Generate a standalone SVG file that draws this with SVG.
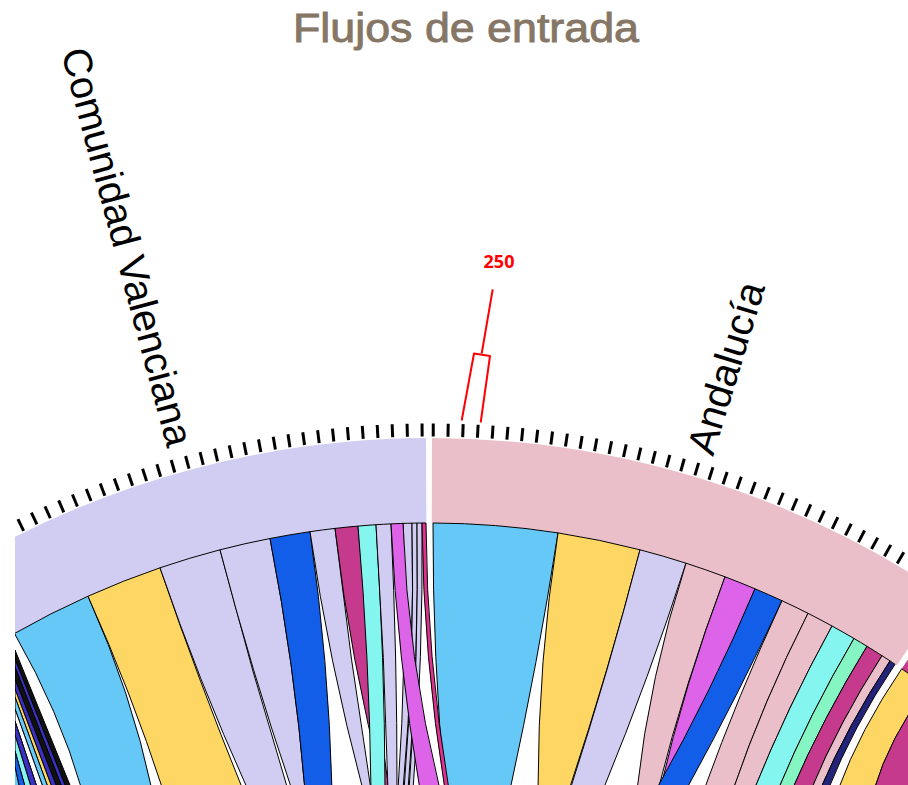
<svg xmlns="http://www.w3.org/2000/svg" width="908" height="785" viewBox="0 0 908 785">
<defs>
<clipPath id="clip"><rect x="15" y="0" width="893" height="785"/></clipPath>
<style>
.title{font-family:"Liberation Sans",Arial,sans-serif;font-size:40px;fill:#857665;stroke:#857665;stroke-width:0.9}
.label{font-family:"Liberation Sans",Arial,sans-serif;font-size:40px;fill:#000}
.ann{font-family:"Open Sans","Liberation Sans",sans-serif;font-size:18px;font-weight:bold;fill:#ff0000}
.annl{fill:none;stroke:#ff0000;stroke-width:2;stroke-linejoin:round}
.tick{stroke:#000;stroke-width:3}
.rib{stroke:#000;stroke-width:1;stroke-linejoin:round}
.lb{fill:#66c8f7}.yl{fill:#fdd663}.lv{fill:#d1cdf2}.bl{fill:#135ee9}.mg{fill:#c53a8c}
.cy{fill:#84f5ef}.vi{fill:#dd63e8}.mi{fill:#84f5c3}.pk{fill:#ebbfc9}.dp{fill:#e0318f}
.nv{fill:#23237a}.ig{fill:#3a30c4}.bk{fill:#111}.wh{fill:#fff}
</style>
</defs>
<rect width="908" height="785" fill="#fff"/>
<g id="title"><text class="title" x="466" y="42" text-anchor="middle" textLength="346" lengthAdjust="spacingAndGlyphs">Flujos de entrada</text></g>
<g clip-path="url(#clip)">
<g id="node-comunidad-valenciana">
<path class="lv" d="M -27.7 559.8 A 921 921 0 0 1 426 438 L 426.35 523 A 836 836 0 0 0 14.5 633.5 Z"/>
<g class="tick">
<line x1="430" y1="436.5" x2="430" y2="423.5" transform="rotate(-29.8 430 1359)"/>
<line x1="430" y1="436.5" x2="430" y2="423.5" transform="rotate(-28.884 430 1359)"/>
<line x1="430" y1="436.5" x2="430" y2="423.5" transform="rotate(-27.968 430 1359)"/>
<line x1="430" y1="436.5" x2="430" y2="423.5" transform="rotate(-27.052 430 1359)"/>
<line x1="430" y1="436.5" x2="430" y2="423.5" transform="rotate(-26.136 430 1359)"/>
<line x1="430" y1="436.5" x2="430" y2="423.5" transform="rotate(-25.22 430 1359)"/>
<line x1="430" y1="436.5" x2="430" y2="423.5" transform="rotate(-24.304 430 1359)"/>
<line x1="430" y1="436.5" x2="430" y2="423.5" transform="rotate(-23.388 430 1359)"/>
<line x1="430" y1="436.5" x2="430" y2="423.5" transform="rotate(-22.472 430 1359)"/>
<line x1="430" y1="436.5" x2="430" y2="423.5" transform="rotate(-21.556 430 1359)"/>
<line x1="430" y1="436.5" x2="430" y2="423.5" transform="rotate(-20.64 430 1359)"/>
<line x1="430" y1="436.5" x2="430" y2="423.5" transform="rotate(-19.724 430 1359)"/>
<line x1="430" y1="436.5" x2="430" y2="423.5" transform="rotate(-18.808 430 1359)"/>
<line x1="430" y1="436.5" x2="430" y2="423.5" transform="rotate(-17.892 430 1359)"/>
<line x1="430" y1="436.5" x2="430" y2="423.5" transform="rotate(-16.976 430 1359)"/>
<line x1="430" y1="436.5" x2="430" y2="423.5" transform="rotate(-16.06 430 1359)"/>
<line x1="430" y1="436.5" x2="430" y2="423.5" transform="rotate(-15.144 430 1359)"/>
<line x1="430" y1="436.5" x2="430" y2="423.5" transform="rotate(-14.228 430 1359)"/>
<line x1="430" y1="436.5" x2="430" y2="423.5" transform="rotate(-13.312 430 1359)"/>
<line x1="430" y1="436.5" x2="430" y2="423.5" transform="rotate(-12.396 430 1359)"/>
<line x1="430" y1="436.5" x2="430" y2="423.5" transform="rotate(-11.48 430 1359)"/>
<line x1="430" y1="436.5" x2="430" y2="423.5" transform="rotate(-10.564 430 1359)"/>
<line x1="430" y1="436.5" x2="430" y2="423.5" transform="rotate(-9.648 430 1359)"/>
<line x1="430" y1="436.5" x2="430" y2="423.5" transform="rotate(-8.732 430 1359)"/>
<line x1="430" y1="436.5" x2="430" y2="423.5" transform="rotate(-7.816 430 1359)"/>
<line x1="430" y1="436.5" x2="430" y2="423.5" transform="rotate(-6.9 430 1359)"/>
<line x1="430" y1="436.5" x2="430" y2="423.5" transform="rotate(-5.984 430 1359)"/>
<line x1="430" y1="436.5" x2="430" y2="423.5" transform="rotate(-5.068 430 1359)"/>
<line x1="430" y1="436.5" x2="430" y2="423.5" transform="rotate(-4.152 430 1359)"/>
<line x1="430" y1="436.5" x2="430" y2="423.5" transform="rotate(-3.236 430 1359)"/>
<line x1="430" y1="436.5" x2="430" y2="423.5" transform="rotate(-2.32 430 1359)"/>
<line x1="430" y1="436.5" x2="430" y2="423.5" transform="rotate(-1.404 430 1359)"/>
<line x1="430" y1="436.5" x2="430" y2="423.5" transform="rotate(-0.488 430 1359)"/>
</g>
</g>
<g id="node-andalucia">
<path class="pk" d="M 431.9 438 A 921 921 0 0 1 944.3 594.9 L 896.8 665.5 A 836 836 0 0 0 431.75 523 Z"/>
<g class="tick">
<line x1="430" y1="436.5" x2="430" y2="423.5" transform="rotate(0.2 430 1359)"/>
<line x1="430" y1="436.5" x2="430" y2="423.5" transform="rotate(1.116 430 1359)"/>
<line x1="430" y1="436.5" x2="430" y2="423.5" transform="rotate(2.032 430 1359)"/>
<line x1="430" y1="436.5" x2="430" y2="423.5" transform="rotate(2.948 430 1359)"/>
<line x1="430" y1="436.5" x2="430" y2="423.5" transform="rotate(3.864 430 1359)"/>
<line x1="430" y1="436.5" x2="430" y2="423.5" transform="rotate(4.78 430 1359)"/>
<line x1="430" y1="436.5" x2="430" y2="423.5" transform="rotate(5.696 430 1359)"/>
<line x1="430" y1="436.5" x2="430" y2="423.5" transform="rotate(6.612 430 1359)"/>
<line x1="430" y1="436.5" x2="430" y2="423.5" transform="rotate(7.528 430 1359)"/>
<line x1="430" y1="436.5" x2="430" y2="423.5" transform="rotate(8.444 430 1359)"/>
<line x1="430" y1="436.5" x2="430" y2="423.5" transform="rotate(9.36 430 1359)"/>
<line x1="430" y1="436.5" x2="430" y2="423.5" transform="rotate(10.276 430 1359)"/>
<line x1="430" y1="436.5" x2="430" y2="423.5" transform="rotate(11.192 430 1359)"/>
<line x1="430" y1="436.5" x2="430" y2="423.5" transform="rotate(12.108 430 1359)"/>
<line x1="430" y1="436.5" x2="430" y2="423.5" transform="rotate(13.024 430 1359)"/>
<line x1="430" y1="436.5" x2="430" y2="423.5" transform="rotate(13.94 430 1359)"/>
<line x1="430" y1="436.5" x2="430" y2="423.5" transform="rotate(14.856 430 1359)"/>
<line x1="430" y1="436.5" x2="430" y2="423.5" transform="rotate(15.772 430 1359)"/>
<line x1="430" y1="436.5" x2="430" y2="423.5" transform="rotate(16.688 430 1359)"/>
<line x1="430" y1="436.5" x2="430" y2="423.5" transform="rotate(17.604 430 1359)"/>
<line x1="430" y1="436.5" x2="430" y2="423.5" transform="rotate(18.52 430 1359)"/>
<line x1="430" y1="436.5" x2="430" y2="423.5" transform="rotate(19.436 430 1359)"/>
<line x1="430" y1="436.5" x2="430" y2="423.5" transform="rotate(20.352 430 1359)"/>
<line x1="430" y1="436.5" x2="430" y2="423.5" transform="rotate(21.268 430 1359)"/>
<line x1="430" y1="436.5" x2="430" y2="423.5" transform="rotate(22.184 430 1359)"/>
<line x1="430" y1="436.5" x2="430" y2="423.5" transform="rotate(23.1 430 1359)"/>
<line x1="430" y1="436.5" x2="430" y2="423.5" transform="rotate(24.016 430 1359)"/>
<line x1="430" y1="436.5" x2="430" y2="423.5" transform="rotate(24.932 430 1359)"/>
<line x1="430" y1="436.5" x2="430" y2="423.5" transform="rotate(25.848 430 1359)"/>
<line x1="430" y1="436.5" x2="430" y2="423.5" transform="rotate(26.764 430 1359)"/>
<line x1="430" y1="436.5" x2="430" y2="423.5" transform="rotate(27.68 430 1359)"/>
<line x1="430" y1="436.5" x2="430" y2="423.5" transform="rotate(28.596 430 1359)"/>
<line x1="430" y1="436.5" x2="430" y2="423.5" transform="rotate(29.512 430 1359)"/>
<line x1="430" y1="436.5" x2="430" y2="423.5" transform="rotate(30.428 430 1359)"/>
<line x1="430" y1="436.5" x2="430" y2="423.5" transform="rotate(31.344 430 1359)"/>
<line x1="430" y1="436.5" x2="430" y2="423.5" transform="rotate(32.26 430 1359)"/>
<line x1="430" y1="436.5" x2="430" y2="423.5" transform="rotate(33.176 430 1359)"/>
</g>
</g>
<g id="node-next">
<path class="mg" d="M 949.7 598.6 A 921 921 0 0 1 1227.6 898.5 L 1154 941 A 836 836 0 0 0 901.7 668.8 Z"/>
</g>
<g id="connectors" class="rib">
<path class="bk" d="M 15 650 L 72 790 L 67 790 L 15 659 Z"/>
<path class="ig" d="M 15 659 L 67 790 L 63 790 L 15 667 Z"/>
<path class="bk" d="M 15 667 L 63 790 L 58 790 L 15 679 Z"/>
<path class="ig" d="M 15 679 L 58 790 L 53 790 L 15 689 Z"/>
<path class="yl" d="M 15 689 L 53 790 L 49 790 L 15 697 Z"/>
<path class="lb" d="M 15 697 L 49 790 L 44 790 L 15 709 Z"/>
<path class="wh" d="M 15 709 L 44 790 L 38 790 L 15 721 Z"/>
<path class="ig" d="M 15 721 L 38 790 L 32 790 L 15 735 Z"/>
<path class="cy" d="M 15 735 L 32 790 L 26 790 L 15 751 Z"/>
<path class="bl" d="M 15 751 L 26 790 L 20 790 L 15 767 Z"/>
<path class="lb" d="M 15 767 L 20 790 L 10 790 Z"/>
<path class="lb" d="M 14.5 633.5 A 836 836 0 0 1 88 596.2 Q 131.4 693.1 152 790 L 82 790 Q 59.3 711.8 14.5 633.5 Z"/>
<path class="yl" d="M 88 596.2 A 836 836 0 0 1 160 567.8 Q 197.9 678.9 243 790 L 163 790 Q 131.4 693.1 88 596.2 Z"/>
<path class="lv" d="M 160 567.8 A 836 836 0 0 1 220 549.8 Q 251.2 669.9 288 790 L 248 790 Q 197.9 678.9 160 567.8 Z"/>
<path class="lv" d="M 220 549.8 A 836 836 0 0 1 270 538.5 Q 294.5 664.3 305 790 L 292 790 Q 251.2 669.9 220 549.8 Z"/>
<path class="bl" d="M 270 538.5 A 836 836 0 0 1 310 531.7 Q 328.7 660.9 332 790 L 305 790 Q 294.5 664.3 270 538.5 Z"/>
<path class="lv" d="M 310 531.7 A 836 836 0 0 1 335 528.4 Q 350 659.2 371 790 L 363 790 Q 328.7 660.9 310 531.7 Z"/>
<path class="mg" d="M 335 528.4 A 836 836 0 0 1 358 526.1 Q 369.4 658.1 389 790 L 384 790 Q 350 659.2 335 528.4 Z"/>
<path class="cy" d="M 358 526.1 A 836 836 0 0 1 376 524.7 Q 384.6 657.4 385 790 L 371 790 Q 369.4 658.1 358 526.1 Z"/>
<path class="lv" d="M 376 524.7 A 836 836 0 0 1 391 523.9 Q 397.2 657 397 790 L 388 790 Q 384.6 657.4 376 524.7 Z"/>
<path class="lv" d="M 403 523.4 A 836 836 0 0 1 412 523.2 Q 414.9 656.6 403 790 L 398 790 Q 407.3 656.7 403 523.4 Z"/>
<path class="lv" d="M 412 523.2 A 836 836 0 0 1 417 523.1 Q 419.1 656.6 408 790 L 404 790 Q 414.9 656.6 412 523.2 Z"/>
<path class="lv" d="M 417 523.1 A 836 836 0 0 1 422 523 Q 423.3 656.5 413 790 L 409 790 Q 419.1 656.6 417 523.1 Z"/>
<path class="vi" d="M 391 523.9 A 836 836 0 0 1 403 523.4 Q 407.3 656.7 440 790 L 420 790 Q 397.2 657 391 523.9 Z"/>
<path class="lb" d="M 433 523 A 836 836 0 0 1 558 532.9 Q 538.1 661.5 510 790 L 445 790 Q 432.5 656.5 433 523 Z"/>
<path class="dp" d="M 422 523 A 836 836 0 0 1 426 523 Q 426.6 656.5 449 790 L 445 790 Q 423.3 656.5 422 523 Z"/>
<path class="yl" d="M 558 532.9 A 836 836 0 0 1 640 549.8 Q 608.8 669.9 569 790 L 538 790 Q 538.1 661.5 558 532.9 Z"/>
<path class="lv" d="M 640 549.8 A 836 836 0 0 1 686 563.2 Q 649.5 676.6 603 790 L 570 790 Q 608.8 669.9 640 549.8 Z"/>
<path class="pk" d="M 686 563.2 A 836 836 0 0 1 725 576.8 Q 684.8 683.4 658 790 L 637 790 Q 649.5 676.6 686 563.2 Z"/>
<path class="vi" d="M 725 576.8 A 836 836 0 0 1 755 588.8 Q 712.6 689.4 668 790 L 660 790 Q 684.8 683.4 725 576.8 Z"/>
<path class="bl" d="M 755 588.8 A 836 836 0 0 1 782 600.7 Q 738.1 695.4 686 790 L 656 790 Q 712.6 689.4 755 588.8 Z"/>
<path class="pk" d="M 782 600.7 A 836 836 0 0 1 808 613.3 Q 763.2 701.7 733 790 L 704 790 Q 738.1 695.4 782 600.7 Z"/>
<path class="pk" d="M 808 613.3 A 836 836 0 0 1 832 626 Q 787 708 754 790 L 733 790 Q 763.2 701.7 808 613.3 Z"/>
<path class="cy" d="M 832 626 A 836 836 0 0 1 854 638.5 Q 809.4 714.3 778 790 L 754 790 Q 787 708 832 626 Z"/>
<path class="mi" d="M 854 638.5 A 836 836 0 0 1 867 646.3 Q 822.9 718.2 792 790 L 778 790 Q 809.4 714.3 854 638.5 Z"/>
<path class="mg" d="M 867 646.3 A 836 836 0 0 1 882 655.7 Q 838.8 722.9 811 790 L 792 790 Q 822.9 718.2 867 646.3 Z"/>
<path class="pk" d="M 882 655.7 A 836 836 0 0 1 890 660.9 Q 847.5 725.5 820 790 L 811 790 Q 838.8 722.9 882 655.7 Z"/>
<path class="nv" d="M 890 660.9 A 836 836 0 0 1 895 664.3 Q 852.9 727.2 828 790 L 820 790 Q 847.5 725.5 890 660.9 Z"/>
<path class="yl" d="M 901.7 668.8 A 836 836 0 0 1 927.3 686.9 Q 889.2 738.5 874 790 L 838 790 Q 860.3 729.4 901.7 668.8 Z"/>
<path class="mg" d="M 927.3 686.9 A 836 836 0 0 1 956.1 709.3 Q 923.4 749.7 935 790 L 874 790 Q 889.2 738.5 927.3 686.9 Z"/>
</g>
</g>
<g id="label-comunidad-valenciana"><text class="label" x="61" y="52" transform="rotate(75 61 52)">Comunidad Valenciana</text></g>
<g id="label-andalucia"><text class="label" x="713" y="457" transform="rotate(-72.9 713 457)">Andalucía</text></g>
<g id="annotation-250">
<text class="ann" x="499" y="268" text-anchor="middle">250</text>
<polyline class="annl" points="492.7,289.3 481.7,353.5"/>
<polyline class="annl" points="461.7,420.5 474,353.5 490,356 480.7,422.5"/>
</g>
</svg>
